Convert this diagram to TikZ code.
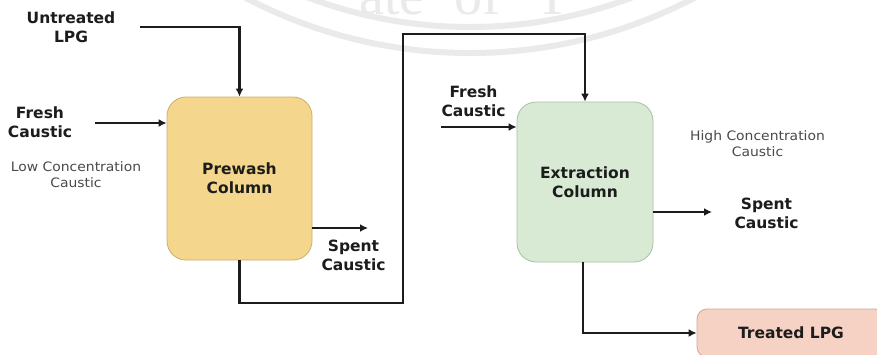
\documentclass[tikz,border=0pt]{standalone}
\usepackage{fontspec}
\setmainfont{DejaVu Sans}
\newfontfamily\notefont[FakeStretch=1.07]{DejaVu Sans}
\newfontfamily\sealfont{Liberation Serif}
\usetikzlibrary{arrows.meta}

\definecolor{ink}{HTML}{1C1C1C}
\definecolor{notegray}{HTML}{4A4A4A}
\definecolor{sealgray}{HTML}{EAEAEA}
\definecolor{prewashfill}{HTML}{F4D68C}
\definecolor{prewashline}{HTML}{CDAE6E}
\definecolor{extractfill}{HTML}{D8EAD3}
\definecolor{extractline}{HTML}{A6C2A0}
\definecolor{treatedfill}{HTML}{F5D2C4}
\definecolor{treatedline}{HTML}{D2A898}

\begin{document}
\begin{tikzpicture}[x=1pt,y=1pt,
  flow/.style={draw=ink, line width=2.3pt, -{Latex[length=8pt,width=8pt]}},
  unit/.style={rounded corners=19pt, line width=0.8pt, align=center,
    font=\bfseries\fontsize{15.5}{19}\selectfont, text=ink},
  tag/.style={align=center, font=\bfseries\fontsize{15.5}{19}\selectfont,
    text=ink, inner sep=0pt},
  note/.style={align=center, font=\notefont\fontsize{13}{16}\selectfont,
    text=notegray, inner sep=0pt},
  seal/.style={draw=sealgray, line width=6pt},
  sealtext/.style={font=\sealfont\fontsize{56}{56}\selectfont,
    text=sealgray, anchor=base west, inner sep=0pt},
]
\useasboundingbox (0,0) rectangle (877,-354);
\fill[white] (0,0) rectangle (877,-354);

% faint seal in the background
\draw[seal] (470,430) circle (457);
\draw[seal] (470,430) circle (483);
\node[sealtext] (sealword) at (359,-14)
  {ate\hspace{30pt}of\hspace{34pt}T};

% process units
\node[unit, fill=prewashfill, draw=prewashline,
      minimum width=145, minimum height=163] (prewash) at (239.5,-178.5)
      {Prewash\\Column};
\node[unit, fill=extractfill, draw=extractline,
      minimum width=136, minimum height=160] (extraction) at (585,-182)
      {Extraction\\Column};
\node[unit, rounded corners=10pt, fill=treatedfill, draw=treatedline,
      minimum width=188, minimum height=48] (treated) at (791,-333)
      {Treated LPG};

% stream labels
\node[tag] (untreated) at (71,-27.5) {Untreated\\LPG};
\node[tag] (fresh1) at (40,-122) {Fresh\\Caustic};
\node[note] (lowconc) at (76,-174.5) {Low Concentration\\Caustic};
\node[tag] (spent1) at (353.5,-255) {Spent\\Caustic};
\node[tag] (fresh2) at (473.5,-101) {Fresh\\Caustic};
\node[note] (highconc) at (757.5,-143.5) {High Concentration\\Caustic};
\node[tag] (spent2) at (766.5,-213) {Spent\\Caustic};

% stream start points and pipe bends
\coordinate (lpgin) at (140,-27);
\coordinate (caus1) at (95,-123);
\coordinate (spent1end) at (368,-228);
\coordinate (caus2) at (441,-127);
\coordinate (spent2end) at (712,-212);
\coordinate (bendA) at (403,-303);
\coordinate (bendB) at (403,-34);

% streams
\draw[flow] (lpgin) -| (prewash.north);
\draw[flow] (caus1) -- (caus1 -| prewash.west);
\draw[flow] (prewash.east |- spent1end) -- (spent1end);
\draw[flow] (prewash.south) |- (bendA) -- (bendB) -| (extraction.north);
\draw[flow] (caus2) -- (caus2 -| extraction.west);
\draw[flow] (extraction.east |- spent2end) -- (spent2end);
\draw[flow] ([xshift=-2pt]extraction.south) |- (treated.west);
\end{tikzpicture}
\end{document}
